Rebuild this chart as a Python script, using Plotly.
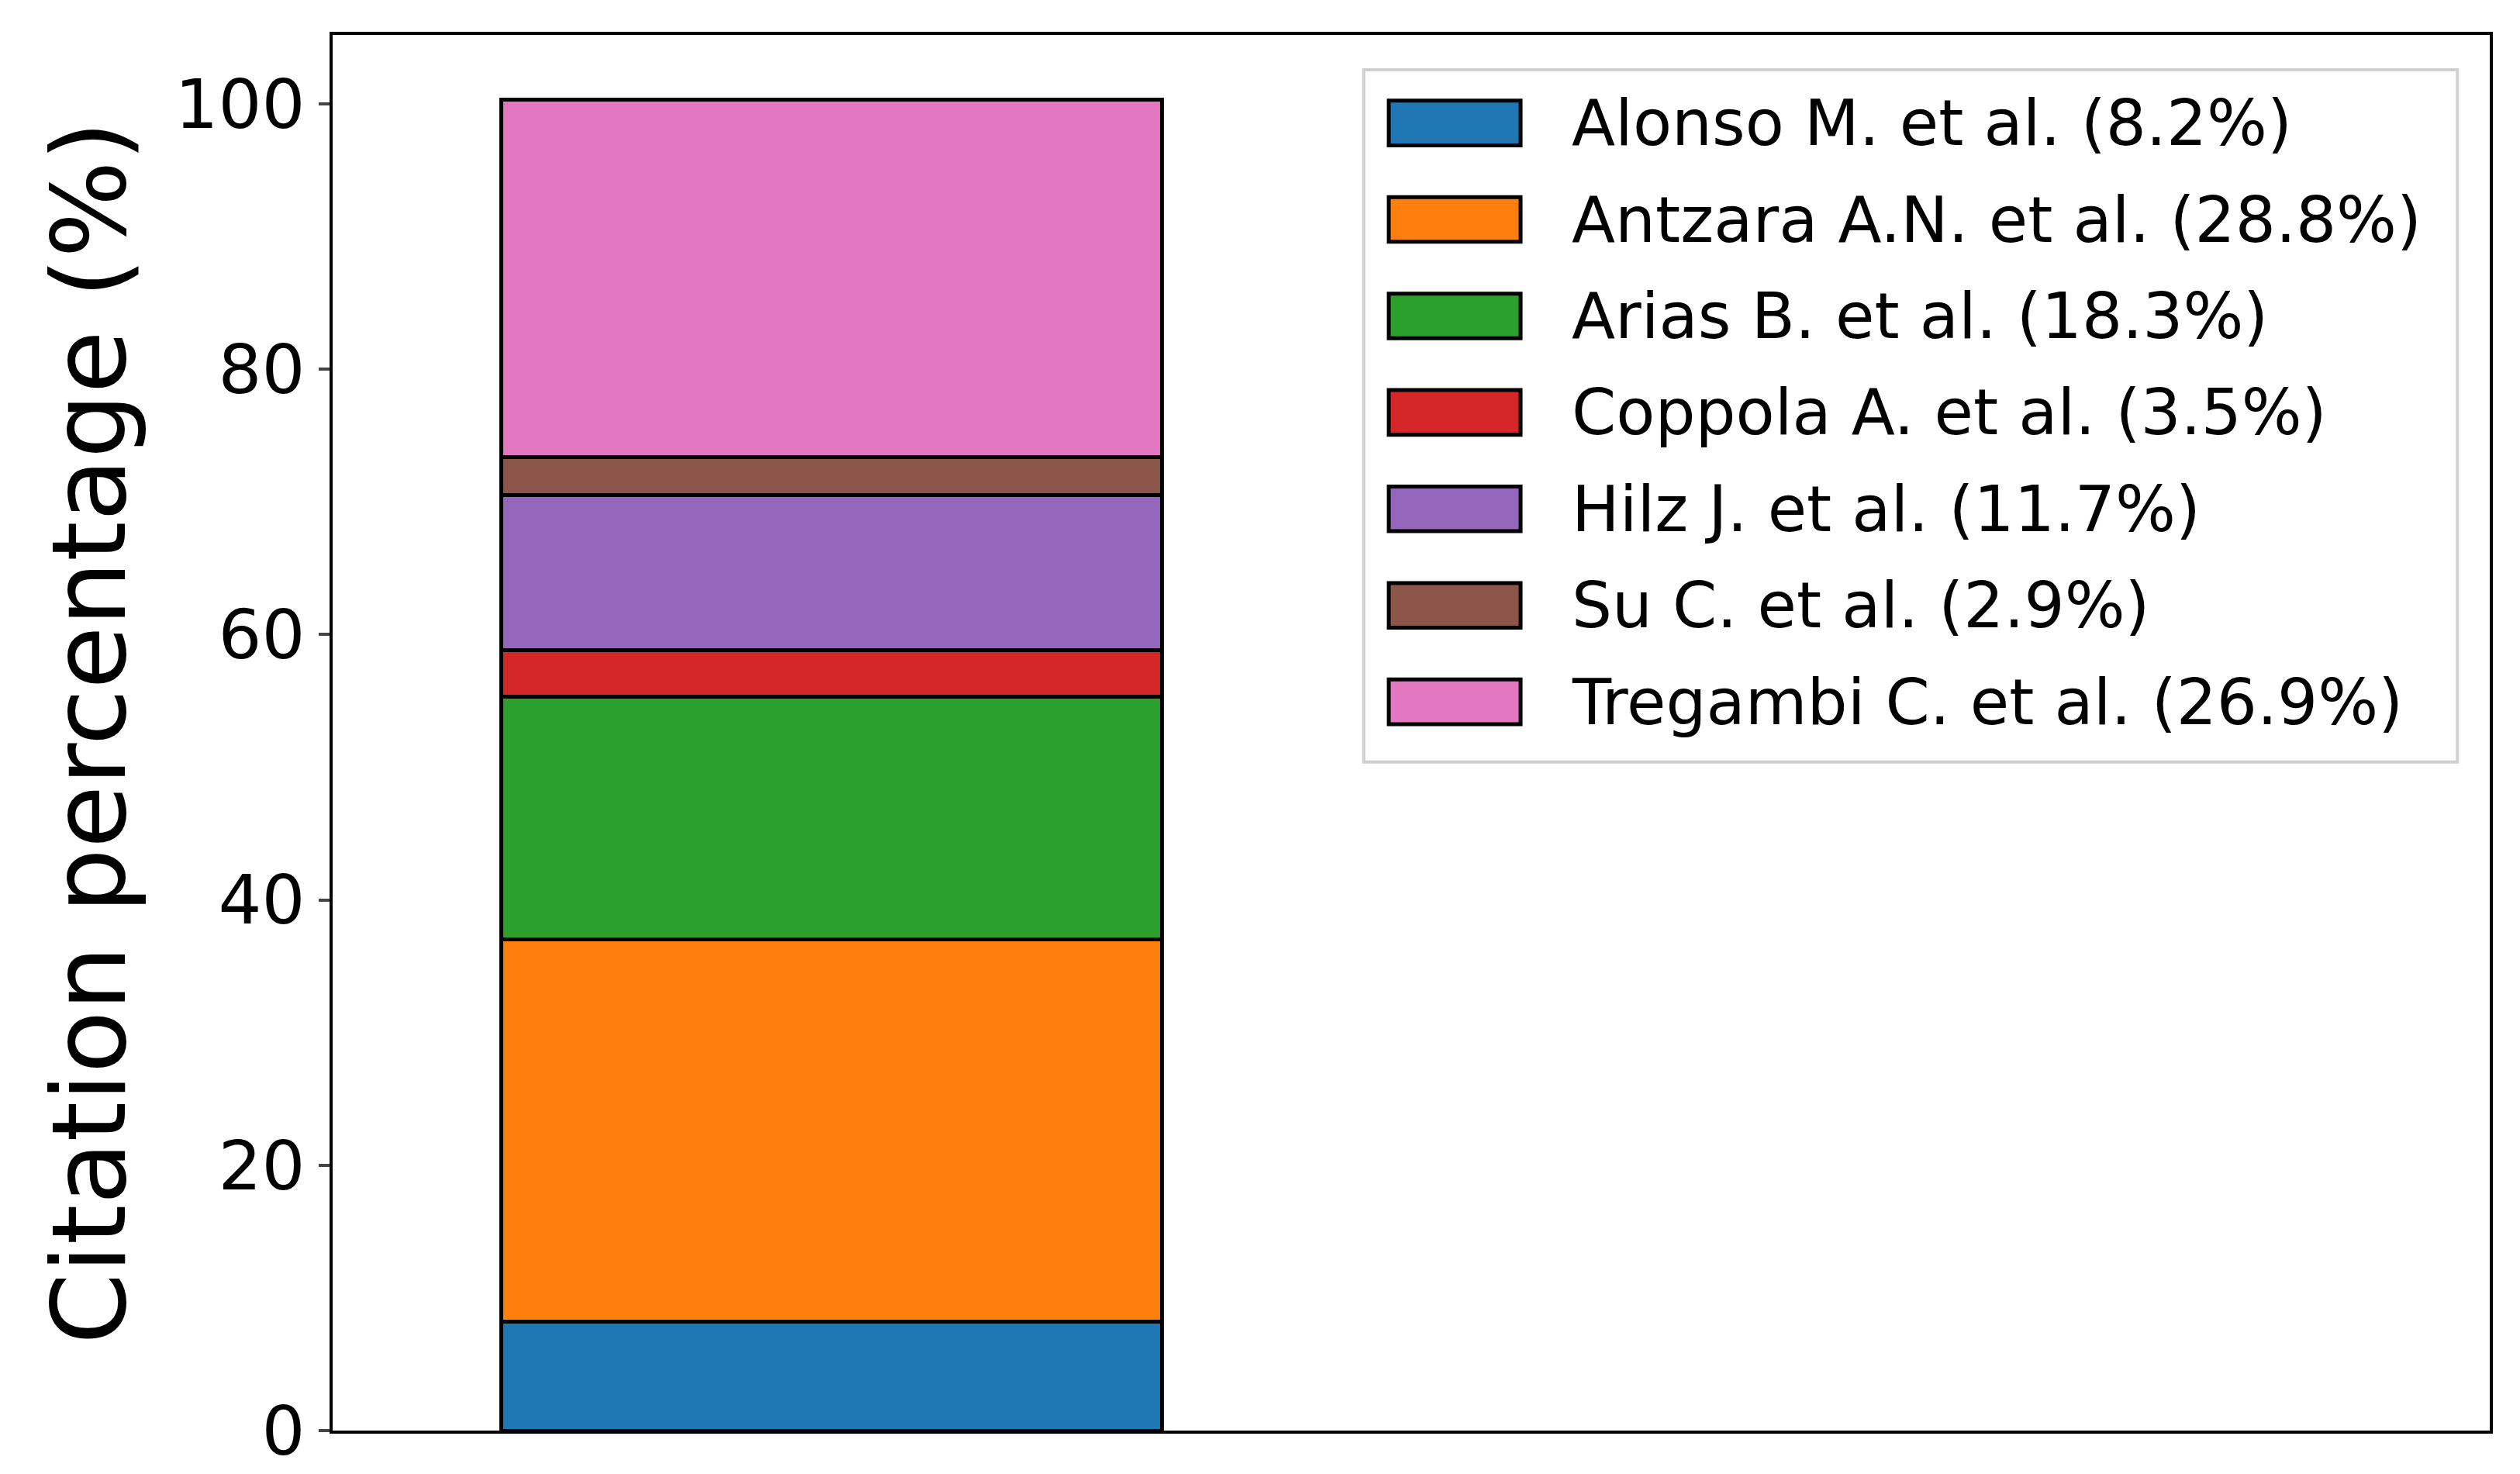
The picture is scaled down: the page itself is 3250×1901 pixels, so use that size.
import plotly.graph_objects as go

authors = ["Alonso M. et al.", "Antzara A.N. et al.", "Arias B. et al.", "Coppola A. et al.",
           "Hilz J. et al.", "Su C. et al.", "Tregambi C. et al."]
values = [8.2, 28.8, 18.3, 3.5, 11.7, 2.9, 26.9]
colors = ["#1f77b4", "#ff7f0e", "#2ca02c", "#d62728", "#9467bd", "#8c564b", "#e377c2"]

fig = go.Figure()
for a, v, c in zip(authors, values, colors):
    fig.add_trace(go.Bar(x=[0], y=[v], width=0.8, name=f"{a} ({v}%)", showlegend=False,
                         marker=dict(color=c, line=dict(color="black", width=5))))

# manual matplotlib-style legend (paper coordinates)
shapes = [dict(type="rect", xref="paper", yref="paper", x0=0.478, x1=0.985, y0=0.479, y1=0.975,
               line=dict(color="#d0d0d0", width=4), fillcolor="rgba(255,255,255,0.8)", layer="above")]
annotations = []
for i, (a, v, c) in enumerate(zip(authors, values, colors)):
    yc = (889 - (73 + 60.2 * i)) / 871
    shapes.append(dict(type="rect", xref="paper", yref="paper", x0=0.4896, x1=0.5507,
                       y0=yc - 0.016, y1=yc + 0.016, fillcolor=c,
                       line=dict(color="black", width=5), layer="above"))
    annotations.append(dict(xref="paper", yref="paper", x=0.5738, y=yc, xanchor="left",
                            yanchor="middle", showarrow=False, text=f"{a} ({v}%)",
                            font=dict(size=82, color="black")))

fig.update_layout(
    barmode="stack", width=3250, height=1901, plot_bgcolor="white", paper_bgcolor="white",
    font=dict(family="DejaVu Sans", color="black"),
    margin=dict(l=421, r=47, t=37, b=58),
    shapes=shapes, annotations=annotations,
    xaxis=dict(range=[-0.604, 2.007], showticklabels=False, ticks="", showgrid=False,
               zeroline=False, showline=True, linecolor="black", linewidth=4, mirror=True),
    yaxis=dict(range=[0, 105.2], tickvals=[0, 20, 40, 60, 80, 100], ticks="outside",
               ticklen=14, tickwidth=4, tickfont=dict(size=88), showgrid=False, zeroline=False,
               showline=True, linecolor="black", linewidth=4, mirror=True,
               title=dict(text="Citation percentage (%)", font=dict(size=132), standoff=20)),
)
fig.write_html("out.html")
